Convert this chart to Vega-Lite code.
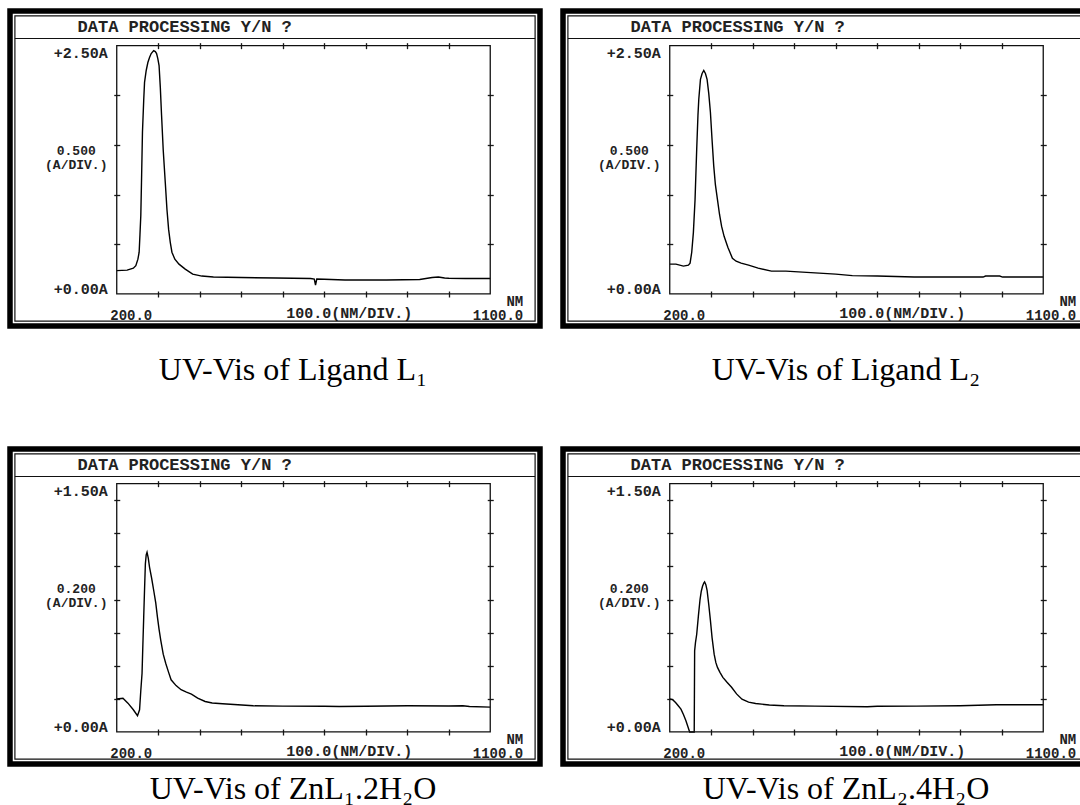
{
  "$schema": "https://vega.github.io/schema/vega-lite/v6.json",
  "background": "white",
  "padding": {"left": 7, "top": 8, "right": 5, "bottom": 5},
  "datasets": {
    "L1": [
      {"nm": 200, "A": 0.235}, {"nm": 225, "A": 0.24}, {"nm": 240, "A": 0.26}, {"nm": 246, "A": 0.285},
      {"nm": 251, "A": 0.35}, {"nm": 254, "A": 0.42}, {"nm": 256, "A": 0.6}, {"nm": 258, "A": 0.79},
      {"nm": 260, "A": 1.2}, {"nm": 262, "A": 1.63}, {"nm": 265, "A": 1.95}, {"nm": 267, "A": 2.13},
      {"nm": 271, "A": 2.25}, {"nm": 275, "A": 2.33}, {"nm": 279, "A": 2.38}, {"nm": 283, "A": 2.42},
      {"nm": 289, "A": 2.45}, {"nm": 293, "A": 2.44}, {"nm": 296, "A": 2.42}, {"nm": 299, "A": 2.37},
      {"nm": 302, "A": 2.3}, {"nm": 305, "A": 2.08}, {"nm": 308, "A": 1.8}, {"nm": 312, "A": 1.45},
      {"nm": 317, "A": 1.12}, {"nm": 321, "A": 0.85}, {"nm": 325, "A": 0.65}, {"nm": 329, "A": 0.52},
      {"nm": 333, "A": 0.42}, {"nm": 340, "A": 0.35}, {"nm": 350, "A": 0.3}, {"nm": 365, "A": 0.25},
      {"nm": 383, "A": 0.2}, {"nm": 405, "A": 0.18}, {"nm": 433, "A": 0.17}, {"nm": 500, "A": 0.165},
      {"nm": 583, "A": 0.16}, {"nm": 667, "A": 0.155}, {"nm": 676, "A": 0.15}, {"nm": 679, "A": 0.09},
      {"nm": 682, "A": 0.15}, {"nm": 700, "A": 0.148}, {"nm": 750, "A": 0.14}, {"nm": 850, "A": 0.14},
      {"nm": 930, "A": 0.145}, {"nm": 960, "A": 0.165}, {"nm": 975, "A": 0.17}, {"nm": 990, "A": 0.16},
      {"nm": 1000, "A": 0.158}, {"nm": 1040, "A": 0.155}, {"nm": 1100, "A": 0.155}
    ],
    "L2": [
      {"nm": 200, "A": 0.3}, {"nm": 215, "A": 0.3}, {"nm": 233, "A": 0.28}, {"nm": 245, "A": 0.29},
      {"nm": 249, "A": 0.31}, {"nm": 253, "A": 0.42}, {"nm": 257, "A": 0.62}, {"nm": 261, "A": 0.95},
      {"nm": 265, "A": 1.46}, {"nm": 268, "A": 1.8}, {"nm": 270, "A": 1.96}, {"nm": 274, "A": 2.16},
      {"nm": 278, "A": 2.22}, {"nm": 282, "A": 2.25}, {"nm": 286, "A": 2.22}, {"nm": 290, "A": 2.16},
      {"nm": 294, "A": 2.02}, {"nm": 298, "A": 1.83}, {"nm": 302, "A": 1.55}, {"nm": 306, "A": 1.29},
      {"nm": 310, "A": 1.1}, {"nm": 315, "A": 0.95}, {"nm": 320, "A": 0.8}, {"nm": 325, "A": 0.68},
      {"nm": 331, "A": 0.58}, {"nm": 340, "A": 0.47}, {"nm": 351, "A": 0.36}, {"nm": 360, "A": 0.33},
      {"nm": 372, "A": 0.31}, {"nm": 390, "A": 0.29}, {"nm": 413, "A": 0.26}, {"nm": 445, "A": 0.23},
      {"nm": 480, "A": 0.23}, {"nm": 520, "A": 0.22}, {"nm": 560, "A": 0.21}, {"nm": 600, "A": 0.2},
      {"nm": 640, "A": 0.185}, {"nm": 700, "A": 0.18}, {"nm": 789, "A": 0.17}, {"nm": 900, "A": 0.17},
      {"nm": 955, "A": 0.17}, {"nm": 961, "A": 0.18}, {"nm": 995, "A": 0.18}, {"nm": 1002, "A": 0.17},
      {"nm": 1100, "A": 0.17}
    ],
    "Z1": [
      {"nm": 200, "A": 0.2}, {"nm": 215, "A": 0.204}, {"nm": 227, "A": 0.174}, {"nm": 240, "A": 0.134},
      {"nm": 250, "A": 0.098}, {"nm": 255, "A": 0.134}, {"nm": 258, "A": 0.25}, {"nm": 261, "A": 0.355},
      {"nm": 263, "A": 0.53}, {"nm": 265, "A": 0.695}, {"nm": 267, "A": 0.86}, {"nm": 269, "A": 1.016},
      {"nm": 271, "A": 1.07}, {"nm": 273, "A": 1.086}, {"nm": 276, "A": 1.05}, {"nm": 279, "A": 0.996},
      {"nm": 284, "A": 0.93}, {"nm": 289, "A": 0.856}, {"nm": 294, "A": 0.78}, {"nm": 298, "A": 0.695},
      {"nm": 302, "A": 0.62}, {"nm": 306, "A": 0.555}, {"nm": 312, "A": 0.47}, {"nm": 318, "A": 0.415},
      {"nm": 325, "A": 0.36}, {"nm": 331, "A": 0.315}, {"nm": 343, "A": 0.28}, {"nm": 355, "A": 0.255},
      {"nm": 368, "A": 0.24}, {"nm": 380, "A": 0.228}, {"nm": 395, "A": 0.205}, {"nm": 413, "A": 0.184},
      {"nm": 430, "A": 0.175}, {"nm": 455, "A": 0.17}, {"nm": 529, "A": 0.158}, {"nm": 600, "A": 0.156},
      {"nm": 700, "A": 0.155}, {"nm": 736, "A": 0.154}, {"nm": 800, "A": 0.155}, {"nm": 901, "A": 0.158},
      {"nm": 1000, "A": 0.157}, {"nm": 1034, "A": 0.158}, {"nm": 1050, "A": 0.154}, {"nm": 1100, "A": 0.15}
    ],
    "Z2": [
      {"nm": 200, "A": 0.2}, {"nm": 207, "A": 0.195}, {"nm": 214, "A": 0.178}, {"nm": 220, "A": 0.16},
      {"nm": 227, "A": 0.138}, {"nm": 233, "A": 0.105}, {"nm": 239, "A": 0.067}, {"nm": 244, "A": 0.03},
      {"nm": 248, "A": 0.0}, {"nm": 252, "A": 0.0}, {"nm": 257, "A": 0.0}, {"nm": 259, "A": 0.0},
      {"nm": 260, "A": 0.49}, {"nm": 262, "A": 0.54}, {"nm": 265, "A": 0.59}, {"nm": 269, "A": 0.7},
      {"nm": 273, "A": 0.8}, {"nm": 276, "A": 0.85}, {"nm": 279, "A": 0.88}, {"nm": 282, "A": 0.9},
      {"nm": 284, "A": 0.907}, {"nm": 287, "A": 0.89}, {"nm": 290, "A": 0.856}, {"nm": 294, "A": 0.77},
      {"nm": 298, "A": 0.674}, {"nm": 302, "A": 0.57}, {"nm": 307, "A": 0.47}, {"nm": 311, "A": 0.42},
      {"nm": 315, "A": 0.39}, {"nm": 321, "A": 0.36}, {"nm": 328, "A": 0.33}, {"nm": 338, "A": 0.3},
      {"nm": 349, "A": 0.27}, {"nm": 361, "A": 0.23}, {"nm": 374, "A": 0.198}, {"nm": 390, "A": 0.18},
      {"nm": 407, "A": 0.172}, {"nm": 440, "A": 0.163}, {"nm": 475, "A": 0.158}, {"nm": 550, "A": 0.156},
      {"nm": 676, "A": 0.152}, {"nm": 700, "A": 0.155}, {"nm": 794, "A": 0.156}, {"nm": 900, "A": 0.158},
      {"nm": 987, "A": 0.164}, {"nm": 1100, "A": 0.164}
    ]
  },
  "config": {
    "view": {"stroke": "#000000", "strokeWidth": 5.5},
    "axis": {
      "domain": false, "grid": false, "tickColor": "#1a1a1a", "tickWidth": 1.3, "tickSize": 6,
      "labelFont": "Liberation Mono", "labelFontSize": 15, "labelFontWeight": "bold", "labelColor": "#222222",
      "titleFont": "Liberation Mono", "titleFontSize": 13, "titleFontWeight": "bold", "titleColor": "#222222",
      "labelOverlap": false, "labelFlush": false, "labelBound": false
    },
    "title": {"font": "Liberation Serif", "fontSize": 32, "fontWeight": "normal", "color": "#000000", "orient": "bottom", "anchor": "middle"}
  },
  "columns": 2,
  "spacing": {"row": 57, "column": 17},
  "concat": [
    {
      "width": 530, "height": 315,
      "title": {"text": "UV-Vis of Ligand L₁", "orient": "bottom", "offset": 29, "dx": 18},
      "resolve": {"axis": {"x": "independent", "y": "independent"}},
      "layer": [
        {
          "data": {"name": "L1"},
          "mark": {"type": "line", "color": "#000000", "strokeWidth": 1.4},
          "encoding": {
            "x": {"field": "nm", "type": "quantitative", "scale": {"domain": [-57.2, 1219.9], "nice": false, "zero": false},
              "axis": {"orient": "bottom", "offset": -35, "values": [200, 300, 400, 500, 600, 700, 800, 900, 1000, 1100],
                "tickOpacity": {"condition": {"test": "datum.value == 200 || datum.value == 1100", "value": 0}, "value": 1},
                "labelExpr": "datum.value == 200 ? ['', '200.0'] : datum.value == 1100 ? ['NM', '1100.0'] : ''",
                "labelAlign": {"condition": {"test": "datum.value == 200", "value": "left"}, "value": "right"},
                "labelOffset": {"condition": {"test": "datum.value == 200", "value": -7}, "value": 32.5},
                "labelBaseline": "top", "labelFontSize": 14, "labelLineHeight": 14, "labelPadding": -3,
                "title": "100.0(NM/DIV.)", "titleX": 338.75, "titleY": 14, "titleAlign": "center", "titleBaseline": "top", "titleFontSize": 15}},
            "y": {"field": "A", "type": "quantitative", "scale": {"domain": [-0.3227, 2.8489], "nice": false, "zero": false},
              "axis": {"orient": "left", "offset": -109.75, "values": [0, 0.5, 1, 1.5, 2, 2.5],
                "tickOpacity": {"condition": {"test": "datum.value == 0 || datum.value == 2.5", "value": 0}, "value": 1},
                "labelExpr": "datum.value == 0 ? '+0.00A' : datum.value == 2.5 ? '+2.50A' : ''",
                "labelBaseline": {"condition": {"test": "datum.value == 0", "value": "alphabetic"}, "value": "top"},
                "labelAlign": "right", "labelPadding": 6.5,
                "title": ["0.500", "(A/DIV.)"], "titleAngle": 0, "titleAlign": "center", "titleBaseline": "top",
                "titleX": -44, "titleY": 133, "titleLineHeight": 14}}
          }
        },
        {
          "data": {"values": [{}]},
          "mark": {"type": "rect", "filled": false, "stroke": "#111111", "strokeWidth": 1.3},
          "encoding": {
            "x": {"datum": 200, "type": "quantitative", "scale": {"domain": [-57.2, 1219.9], "nice": false, "zero": false},
              "axis": {"orient": "top", "offset": -37.65, "values": [300, 400, 500, 600, 700, 800, 900, 1000], "labels": false, "title": null}},
            "x2": {"datum": 1100},
            "y": {"datum": 0, "type": "quantitative", "scale": {"domain": [-0.3227, 2.8489], "nice": false, "zero": false},
              "axis": {"orient": "right", "offset": -52.75, "values": [0.5, 1, 1.5, 2], "labels": false, "title": null}},
            "y2": {"datum": 2.5}
          }
        },
        {
          "data": {"values": [{}]},
          "mark": {"type": "rect", "filled": false, "stroke": "#111111", "strokeWidth": 1.2},
          "encoding": {
            "x": {"datum": -45.4, "type": "quantitative", "scale": {"domain": [-57.2, 1219.9], "nice": false, "zero": false}, "axis": null},
            "x2": {"datum": 1208.1},
            "y": {"datum": -0.2734, "type": "quantitative", "scale": {"domain": [-0.3227, 2.8489], "nice": false, "zero": false}, "axis": null},
            "y2": {"datum": 2.7996}
          }
        },
        {
          "data": {"values": [{}]},
          "mark": {"type": "rule", "color": "#111111", "strokeWidth": 1.2},
          "encoding": {
            "x": {"datum": -45.4, "type": "quantitative", "scale": {"domain": [-57.2, 1219.9], "nice": false, "zero": false}, "axis": null},
            "x2": {"datum": 1208.1},
            "y": {"datum": 2.572, "type": "quantitative", "scale": {"domain": [-0.3227, 2.8489], "nice": false, "zero": false}, "axis": null}
          }
        },
        {
          "data": {"values": [{"t": "DATA PROCESSING Y/N ?"}]},
          "mark": {"type": "text", "align": "left", "baseline": "alphabetic", "font": "Liberation Mono", "fontWeight": "bold", "fontSize": 17, "color": "#222222"},
          "encoding": {
            "text": {"field": "t"},
            "x": {"datum": 105.5, "type": "quantitative", "scale": {"domain": [-57.2, 1219.9], "nice": false, "zero": false}, "axis": null},
            "y": {"datum": 2.6375, "type": "quantitative", "scale": {"domain": [-0.3227, 2.8489], "nice": false, "zero": false}, "axis": null}
          }
        }
      ]
    },
    {
      "width": 530, "height": 315,
      "title": {"text": "UV-Vis of Ligand L₂", "orient": "bottom", "offset": 29, "dx": 18},
      "resolve": {"axis": {"x": "independent", "y": "independent"}},
      "layer": [
        {
          "data": {"name": "L2"},
          "mark": {"type": "line", "color": "#000000", "strokeWidth": 1.4},
          "encoding": {
            "x": {"field": "nm", "type": "quantitative", "scale": {"domain": [-57.2, 1219.9], "nice": false, "zero": false},
              "axis": {"orient": "bottom", "offset": -35, "values": [200, 300, 400, 500, 600, 700, 800, 900, 1000, 1100],
                "tickOpacity": {"condition": {"test": "datum.value == 200 || datum.value == 1100", "value": 0}, "value": 1},
                "labelExpr": "datum.value == 200 ? ['', '200.0'] : datum.value == 1100 ? ['NM', '1100.0'] : ''",
                "labelAlign": {"condition": {"test": "datum.value == 200", "value": "left"}, "value": "right"},
                "labelOffset": {"condition": {"test": "datum.value == 200", "value": -7}, "value": 32.5},
                "labelBaseline": "top", "labelFontSize": 14, "labelLineHeight": 14, "labelPadding": -3,
                "title": "100.0(NM/DIV.)", "titleX": 338.75, "titleY": 14, "titleAlign": "center", "titleBaseline": "top", "titleFontSize": 15}},
            "y": {"field": "A", "type": "quantitative", "scale": {"domain": [-0.3227, 2.8489], "nice": false, "zero": false},
              "axis": {"orient": "left", "offset": -109.75, "values": [0, 0.5, 1, 1.5, 2, 2.5],
                "tickOpacity": {"condition": {"test": "datum.value == 0 || datum.value == 2.5", "value": 0}, "value": 1},
                "labelExpr": "datum.value == 0 ? '+0.00A' : datum.value == 2.5 ? '+2.50A' : ''",
                "labelBaseline": {"condition": {"test": "datum.value == 0", "value": "alphabetic"}, "value": "top"},
                "labelAlign": "right", "labelPadding": 6.5,
                "title": ["0.500", "(A/DIV.)"], "titleAngle": 0, "titleAlign": "center", "titleBaseline": "top",
                "titleX": -44, "titleY": 133, "titleLineHeight": 14}}
          }
        },
        {
          "data": {"values": [{}]},
          "mark": {"type": "rect", "filled": false, "stroke": "#111111", "strokeWidth": 1.3},
          "encoding": {
            "x": {"datum": 200, "type": "quantitative", "scale": {"domain": [-57.2, 1219.9], "nice": false, "zero": false},
              "axis": {"orient": "top", "offset": -37.65, "values": [300, 400, 500, 600, 700, 800, 900, 1000], "labels": false, "title": null}},
            "x2": {"datum": 1100},
            "y": {"datum": 0, "type": "quantitative", "scale": {"domain": [-0.3227, 2.8489], "nice": false, "zero": false},
              "axis": {"orient": "right", "offset": -52.75, "values": [0.5, 1, 1.5, 2], "labels": false, "title": null}},
            "y2": {"datum": 2.5}
          }
        },
        {
          "data": {"values": [{}]},
          "mark": {"type": "rect", "filled": false, "stroke": "#111111", "strokeWidth": 1.2},
          "encoding": {
            "x": {"datum": -45.4, "type": "quantitative", "scale": {"domain": [-57.2, 1219.9], "nice": false, "zero": false}, "axis": null},
            "x2": {"datum": 1208.1},
            "y": {"datum": -0.2734, "type": "quantitative", "scale": {"domain": [-0.3227, 2.8489], "nice": false, "zero": false}, "axis": null},
            "y2": {"datum": 2.7996}
          }
        },
        {
          "data": {"values": [{}]},
          "mark": {"type": "rule", "color": "#111111", "strokeWidth": 1.2},
          "encoding": {
            "x": {"datum": -45.4, "type": "quantitative", "scale": {"domain": [-57.2, 1219.9], "nice": false, "zero": false}, "axis": null},
            "x2": {"datum": 1208.1},
            "y": {"datum": 2.572, "type": "quantitative", "scale": {"domain": [-0.3227, 2.8489], "nice": false, "zero": false}, "axis": null}
          }
        },
        {
          "data": {"values": [{"t": "DATA PROCESSING Y/N ?"}]},
          "mark": {"type": "text", "align": "left", "baseline": "alphabetic", "font": "Liberation Mono", "fontWeight": "bold", "fontSize": 17, "color": "#222222"},
          "encoding": {
            "text": {"field": "t"},
            "x": {"datum": 105.5, "type": "quantitative", "scale": {"domain": [-57.2, 1219.9], "nice": false, "zero": false}, "axis": null},
            "y": {"datum": 2.6375, "type": "quantitative", "scale": {"domain": [-0.3227, 2.8489], "nice": false, "zero": false}, "axis": null}
          }
        }
      ]
    },
    {
      "width": 530, "height": 315,
      "title": {"text": "UV-Vis of ZnL₁.2H₂O", "orient": "bottom", "offset": 10, "dx": 18},
      "resolve": {"axis": {"x": "independent", "y": "independent"}},
      "layer": [
        {
          "data": {"name": "Z1"},
          "mark": {"type": "line", "color": "#000000", "strokeWidth": 1.4},
          "encoding": {
            "x": {"field": "nm", "type": "quantitative", "scale": {"domain": [-57.2, 1219.9], "nice": false, "zero": false},
              "axis": {"orient": "bottom", "offset": -35, "values": [200, 300, 400, 500, 600, 700, 800, 900, 1000, 1100],
                "tickOpacity": {"condition": {"test": "datum.value == 200 || datum.value == 1100", "value": 0}, "value": 1},
                "labelExpr": "datum.value == 200 ? ['', '200.0'] : datum.value == 1100 ? ['NM', '1100.0'] : ''",
                "labelAlign": {"condition": {"test": "datum.value == 200", "value": "left"}, "value": "right"},
                "labelOffset": {"condition": {"test": "datum.value == 200", "value": -7}, "value": 32.5},
                "labelBaseline": "top", "labelFontSize": 14, "labelLineHeight": 14, "labelPadding": -3,
                "title": "100.0(NM/DIV.)", "titleX": 338.75, "titleY": 14, "titleAlign": "center", "titleBaseline": "top", "titleFontSize": 15}},
            "y": {"field": "A", "type": "quantitative", "scale": {"domain": [-0.1936, 1.7093], "nice": false, "zero": false},
              "axis": {"orient": "left", "offset": -109.75, "values": [0, 0.2, 0.4, 0.6, 0.8, 1.0, 1.2, 1.4, 1.5],
                "tickOpacity": {"condition": {"test": "datum.value == 0 || datum.value == 1.5", "value": 0}, "value": 1},
                "labelExpr": "datum.value == 0 ? '+0.00A' : datum.value == 1.5 ? '+1.50A' : ''",
                "labelBaseline": {"condition": {"test": "datum.value == 0", "value": "alphabetic"}, "value": "top"},
                "labelAlign": "right", "labelPadding": 6.5,
                "title": ["0.200", "(A/DIV.)"], "titleAngle": 0, "titleAlign": "center", "titleBaseline": "top",
                "titleX": -44, "titleY": 133, "titleLineHeight": 14}}
          }
        },
        {
          "data": {"values": [{}]},
          "mark": {"type": "rect", "filled": false, "stroke": "#111111", "strokeWidth": 1.3},
          "encoding": {
            "x": {"datum": 200, "type": "quantitative", "scale": {"domain": [-57.2, 1219.9], "nice": false, "zero": false},
              "axis": {"orient": "top", "offset": -37.65, "values": [300, 400, 500, 600, 700, 800, 900, 1000], "labels": false, "title": null}},
            "x2": {"datum": 1100},
            "y": {"datum": 0, "type": "quantitative", "scale": {"domain": [-0.1936, 1.7093], "nice": false, "zero": false},
              "axis": {"orient": "right", "offset": -52.75, "values": [0.2, 0.4, 0.6, 0.8, 1.0, 1.2, 1.4], "labels": false, "title": null}},
            "y2": {"datum": 1.5}
          }
        },
        {
          "data": {"values": [{}]},
          "mark": {"type": "rect", "filled": false, "stroke": "#111111", "strokeWidth": 1.2},
          "encoding": {
            "x": {"datum": -45.4, "type": "quantitative", "scale": {"domain": [-57.2, 1219.9], "nice": false, "zero": false}, "axis": null},
            "x2": {"datum": 1208.1},
            "y": {"datum": -0.164, "type": "quantitative", "scale": {"domain": [-0.1936, 1.7093], "nice": false, "zero": false}, "axis": null},
            "y2": {"datum": 1.6797}
          }
        },
        {
          "data": {"values": [{}]},
          "mark": {"type": "rule", "color": "#111111", "strokeWidth": 1.2},
          "encoding": {
            "x": {"datum": -45.4, "type": "quantitative", "scale": {"domain": [-57.2, 1219.9], "nice": false, "zero": false}, "axis": null},
            "x2": {"datum": 1208.1},
            "y": {"datum": 1.5432, "type": "quantitative", "scale": {"domain": [-0.1936, 1.7093], "nice": false, "zero": false}, "axis": null}
          }
        },
        {
          "data": {"values": [{"t": "DATA PROCESSING Y/N ?"}]},
          "mark": {"type": "text", "align": "left", "baseline": "alphabetic", "font": "Liberation Mono", "fontWeight": "bold", "fontSize": 17, "color": "#222222"},
          "encoding": {
            "text": {"field": "t"},
            "x": {"datum": 105.5, "type": "quantitative", "scale": {"domain": [-57.2, 1219.9], "nice": false, "zero": false}, "axis": null},
            "y": {"datum": 1.5824, "type": "quantitative", "scale": {"domain": [-0.1936, 1.7093], "nice": false, "zero": false}, "axis": null}
          }
        }
      ]
    },
    {
      "width": 530, "height": 315,
      "title": {"text": "UV-Vis of ZnL₂.4H₂O", "orient": "bottom", "offset": 10, "dx": 18},
      "resolve": {"axis": {"x": "independent", "y": "independent"}},
      "layer": [
        {
          "data": {"name": "Z2"},
          "mark": {"type": "line", "color": "#000000", "strokeWidth": 1.4},
          "encoding": {
            "x": {"field": "nm", "type": "quantitative", "scale": {"domain": [-57.2, 1219.9], "nice": false, "zero": false},
              "axis": {"orient": "bottom", "offset": -35, "values": [200, 300, 400, 500, 600, 700, 800, 900, 1000, 1100],
                "tickOpacity": {"condition": {"test": "datum.value == 200 || datum.value == 1100", "value": 0}, "value": 1},
                "labelExpr": "datum.value == 200 ? ['', '200.0'] : datum.value == 1100 ? ['NM', '1100.0'] : ''",
                "labelAlign": {"condition": {"test": "datum.value == 200", "value": "left"}, "value": "right"},
                "labelOffset": {"condition": {"test": "datum.value == 200", "value": -7}, "value": 32.5},
                "labelBaseline": "top", "labelFontSize": 14, "labelLineHeight": 14, "labelPadding": -3,
                "title": "100.0(NM/DIV.)", "titleX": 338.75, "titleY": 14, "titleAlign": "center", "titleBaseline": "top", "titleFontSize": 15}},
            "y": {"field": "A", "type": "quantitative", "scale": {"domain": [-0.1936, 1.7093], "nice": false, "zero": false},
              "axis": {"orient": "left", "offset": -109.75, "values": [0, 0.2, 0.4, 0.6, 0.8, 1.0, 1.2, 1.4, 1.5],
                "tickOpacity": {"condition": {"test": "datum.value == 0 || datum.value == 1.5", "value": 0}, "value": 1},
                "labelExpr": "datum.value == 0 ? '+0.00A' : datum.value == 1.5 ? '+1.50A' : ''",
                "labelBaseline": {"condition": {"test": "datum.value == 0", "value": "alphabetic"}, "value": "top"},
                "labelAlign": "right", "labelPadding": 6.5,
                "title": ["0.200", "(A/DIV.)"], "titleAngle": 0, "titleAlign": "center", "titleBaseline": "top",
                "titleX": -44, "titleY": 133, "titleLineHeight": 14}}
          }
        },
        {
          "data": {"values": [{}]},
          "mark": {"type": "rect", "filled": false, "stroke": "#111111", "strokeWidth": 1.3},
          "encoding": {
            "x": {"datum": 200, "type": "quantitative", "scale": {"domain": [-57.2, 1219.9], "nice": false, "zero": false},
              "axis": {"orient": "top", "offset": -37.65, "values": [300, 400, 500, 600, 700, 800, 900, 1000], "labels": false, "title": null}},
            "x2": {"datum": 1100},
            "y": {"datum": 0, "type": "quantitative", "scale": {"domain": [-0.1936, 1.7093], "nice": false, "zero": false},
              "axis": {"orient": "right", "offset": -52.75, "values": [0.2, 0.4, 0.6, 0.8, 1.0, 1.2, 1.4], "labels": false, "title": null}},
            "y2": {"datum": 1.5}
          }
        },
        {
          "data": {"values": [{}]},
          "mark": {"type": "rect", "filled": false, "stroke": "#111111", "strokeWidth": 1.2},
          "encoding": {
            "x": {"datum": -45.4, "type": "quantitative", "scale": {"domain": [-57.2, 1219.9], "nice": false, "zero": false}, "axis": null},
            "x2": {"datum": 1208.1},
            "y": {"datum": -0.164, "type": "quantitative", "scale": {"domain": [-0.1936, 1.7093], "nice": false, "zero": false}, "axis": null},
            "y2": {"datum": 1.6797}
          }
        },
        {
          "data": {"values": [{}]},
          "mark": {"type": "rule", "color": "#111111", "strokeWidth": 1.2},
          "encoding": {
            "x": {"datum": -45.4, "type": "quantitative", "scale": {"domain": [-57.2, 1219.9], "nice": false, "zero": false}, "axis": null},
            "x2": {"datum": 1208.1},
            "y": {"datum": 1.5432, "type": "quantitative", "scale": {"domain": [-0.1936, 1.7093], "nice": false, "zero": false}, "axis": null}
          }
        },
        {
          "data": {"values": [{"t": "DATA PROCESSING Y/N ?"}]},
          "mark": {"type": "text", "align": "left", "baseline": "alphabetic", "font": "Liberation Mono", "fontWeight": "bold", "fontSize": 17, "color": "#222222"},
          "encoding": {
            "text": {"field": "t"},
            "x": {"datum": 105.5, "type": "quantitative", "scale": {"domain": [-57.2, 1219.9], "nice": false, "zero": false}, "axis": null},
            "y": {"datum": 1.5824, "type": "quantitative", "scale": {"domain": [-0.1936, 1.7093], "nice": false, "zero": false}, "axis": null}
          }
        }
      ]
    }
  ]
}
